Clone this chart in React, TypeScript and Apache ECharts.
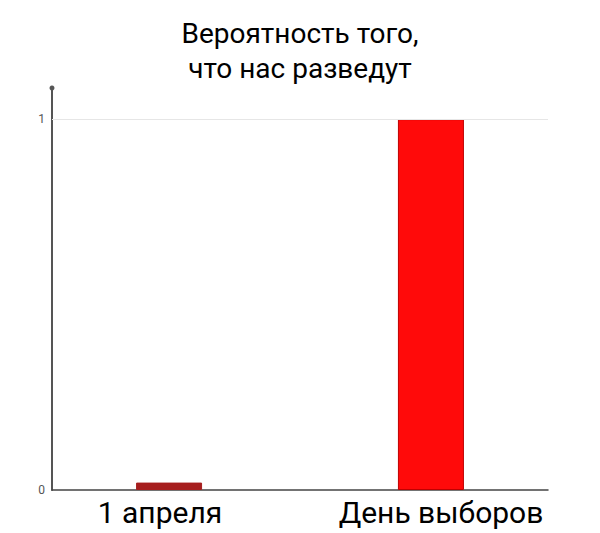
import React, { useEffect, useRef } from 'react';
import * as echarts from 'echarts';

const categories = ['1 апреля', 'День выборов'];
const values = [0.02, 1];
const barColors = ['#a61e1e', '#ff0a0a'];
const titleLines = ['Вероятность того,', 'что нас разведут'];
const gridLineAt = 1;

const App = () => {
  const chartRef = useRef(null);

  useEffect(() => {
    const chart = echarts.init(chartRef.current, null, { renderer: 'svg' });

    // one series per category so the two bars can sit a bit apart from the centres
    const series = values.map((v, i) => ({
      type: 'bar',
      barWidth: 66,
      barGap: '-79%',
      data: values.map((_, j) => (j === i ? v : '-')),
      itemStyle: {
        color: barColors[i],
        borderColor: i === 1 ? '#c00000' : barColors[i],
        borderWidth: 1,
      },
      markLine:
        i === 0
          ? {
              silent: true,
              symbol: 'none',
              label: { show: false },
              lineStyle: { color: '#e6e6e6', width: 1, type: 'solid' },
              data: [{ yAxis: gridLineAt }],
            }
          : undefined,
    }));

    const option = {
      animation: false,
      backgroundColor: '#ffffff',
      title: {
        text: titleLines.join('\n'),
        left: 'center',
        top: 3,
        textStyle: {
          fontFamily: 'Roboto',
          fontSize: 28,
          fontWeight: 'normal',
          color: '#000',
          lineHeight: 35,
        },
      },
      grid: {
        left: 44,
        right: 44,
        top: 80,
        bottom: 43,
      },
      xAxis: {
        type: 'category',
        data: categories.map((c, i) => ({
          value: c,
          textStyle: { padding: i === 0 ? [0, 32, 0, 0] : [0, 0, 0, 34] },
        })),
        axisLine: { lineStyle: { color: '#444', width: 1.5 } },
        axisTick: { show: false },
        axisLabel: {
          interval: 0,
          hideOverlap: false,
          fontFamily: 'Roboto',
          fontSize: 30,
          color: '#000',
          margin: 7,
        },
      },
      yAxis: {
        type: 'value',
        min: 0,
        max: 1.084,
        interval: 1,
        axisLine: {
          show: true,
          symbol: ['none', 'circle'],
          symbolSize: [5, 5],
          lineStyle: { color: '#555', width: 2 },
        },
        axisTick: { show: false },
        axisLabel: {
          fontFamily: 'Roboto',
          fontSize: 12,
          color: '#555',
          margin: 7,
          formatter: (v: number) => (v === 0 || v === 1 ? String(v) : ''),
        },
        splitLine: { show: false },
      },
      series,
    };

    chart.setOption(option);

    return () => {
      chart.dispose();
    };
  }, []);

  return <div ref={chartRef} style={{ width: '584px', height: '525px' }} />;
};

export default App;
